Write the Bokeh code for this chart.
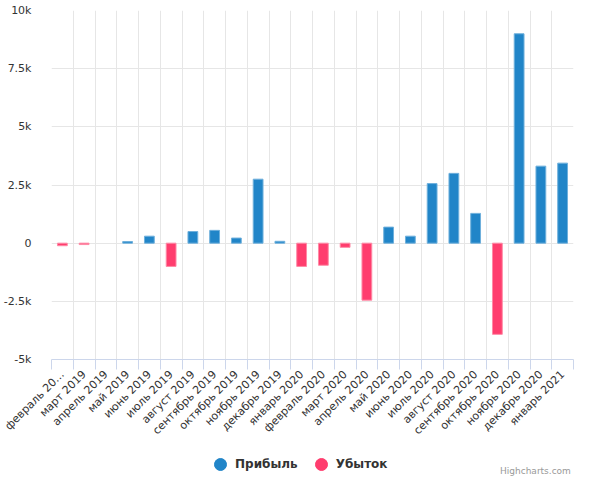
from bokeh.plotting import figure
from bokeh.models import FixedTicker, Legend, LegendItem, Label, ColumnDataSource, Range1d
from bokeh.layouts import column
from bokeh.embed import file_html
from bokeh.resources import INLINE
import numpy as np
import math

months = ["февраль 20…", "март 2019", "апрель 2019", "май 2019", "июнь 2019", "июль 2019",
          "август 2019", "сентябрь 2019", "октябрь 2019", "ноябрь 2019", "декабрь 2019",
          "январь 2020", "февраль 2020", "март 2020", "апрель 2020", "май 2020", "июнь 2020",
          "июль 2020", "август 2020", "сентябрь 2020", "октябрь 2020", "ноябрь 2020",
          "декабрь 2020", "январь 2021"]
profit = [None, None, None, 70, 300, None, 500, 550, 220, 2750, 80, None, None, None, None,
          690, 300, 2560, 3000, 1280, None, 9000, 3310, 3440]
loss = [-110, -60, None, None, None, -1000, None, None, None, None, None, -1000, -950, -180,
        -2450, None, None, None, None, None, -3920, None, None, None]
y_ticks = [-5000, -2500, 0, 2500, 5000, 7500, 10000]
y_tick_labels = ["-5k", "-2.5k", "0", "2.5k", "5k", "7.5k", "10k"]
series_names = ["Прибыль", "Убыток"]

BLUE = "#2185c8"
RED = "#ff3d6e"
FONT = "DejaVu Sans"

p = figure(width=574, height=452, output_backend="svg", toolbar_location=None,
           x_range=Range1d(0, len(months)), y_range=Range1d(-5000, 10000),
           min_border_left=51, min_border_right=1, min_border_top=10, min_border_bottom=93)
p.outline_line_color = None
p.background_fill_color = "white"
p.border_fill_color = "white"

px = [i + 0.5 for i, v in enumerate(profit) if v is not None]
pv = [v for v in profit if v is not None]
lx = [i + 0.5 for i, v in enumerate(loss) if v is not None]
lv = [v for v in loss if v is not None]

p.vbar(x=px, top=pv, bottom=0, width=0.45, fill_color=BLUE, line_color="#6fb0dc", line_width=1)
p.vbar(x=lx, top=0, bottom=lv, width=0.45, fill_color=RED, line_color="#ff8aa6", line_width=1)

# x axis: labels at category centres, tick marks at category boundaries
xt = FixedTicker(ticks=[i + 0.5 for i in range(len(months))], minor_ticks=list(range(len(months) + 1)))
p.xaxis.ticker = xt
p.xaxis.major_label_overrides = {i + 0.5: m for i, m in enumerate(months)}
p.xaxis.major_label_orientation = math.pi / 4
p.xaxis.major_tick_out = 0
p.xaxis.major_tick_in = 0
p.xaxis.minor_tick_out = 10
p.xaxis.minor_tick_in = 0
p.xaxis.minor_tick_line_color = "#ccd6eb"
p.xaxis.axis_line_color = "#ccd6eb"
p.xaxis.major_label_text_font = FONT
p.xaxis.major_label_text_font_size = "11px"
p.xaxis.major_label_text_color = "#333333"
p.xaxis.major_label_standoff = 3

p.xgrid.ticker = FixedTicker(ticks=list(range(len(months) + 1)))
p.xgrid.grid_line_color = "#e6e6e6"

# y axis
p.yaxis.ticker = FixedTicker(ticks=y_ticks)
p.yaxis.major_label_overrides = {t: l for t, l in zip(y_ticks, y_tick_labels)}
p.yaxis.axis_line_color = None
p.yaxis.major_tick_line_color = None
p.yaxis.minor_tick_line_color = None
p.yaxis.major_label_text_font = FONT
p.yaxis.major_label_text_font_size = "11px"
p.yaxis.major_label_text_color = "#333333"
p.yaxis.major_label_standoff = 14
p.ygrid.ticker = FixedTicker(ticks=y_ticks)
p.ygrid.grid_line_color = "#e6e6e6"

# legend strip below the chart
lg = figure(width=574, height=24, output_backend="svg", toolbar_location=None,
            x_range=Range1d(0, 1), y_range=Range1d(0, 1),
            min_border_left=0, min_border_right=0, min_border_top=0, min_border_bottom=0,
            x_axis_type=None, y_axis_type=None)
lg.outline_line_color = None
lg.xgrid.visible = False
lg.ygrid.visible = False
lg.background_fill_alpha = 0
lg.border_fill_alpha = 0

nan_src1 = ColumnDataSource(data=dict(x=np.array([np.nan]), y=np.array([np.nan])))
nan_src2 = ColumnDataSource(data=dict(x=np.array([np.nan]), y=np.array([np.nan])))
r1 = lg.scatter(x="x", y="y", source=nan_src1, marker="circle", size=12, fill_color=BLUE, line_color=BLUE)
r2 = lg.scatter(x="x", y="y", source=nan_src2, marker="circle", size=12, fill_color=RED, line_color=RED)
legend = Legend(items=[LegendItem(label=series_names[0], renderers=[r1]),
                       LegendItem(label=series_names[1], renderers=[r2])],
                orientation="horizontal", location=(154, -3),
                glyph_width=30, glyph_height=30, label_standoff=0, spacing=8,
                label_text_font=FONT, label_text_font_size="12px", label_text_font_style="bold",
                label_text_color="#333333", border_line_color=None, background_fill_alpha=0,
                padding=0, margin=0)
lg.add_layout(legend, "center")

credit = Label(x=0.995, y=0.02, text="Highcharts.com",
               text_align="right", text_baseline="bottom", text_font=FONT,
               text_font_size="9px", text_color="#999999")
lg.add_layout(credit)

open("out.html", "w").write(file_html(column(p, lg), INLINE))
